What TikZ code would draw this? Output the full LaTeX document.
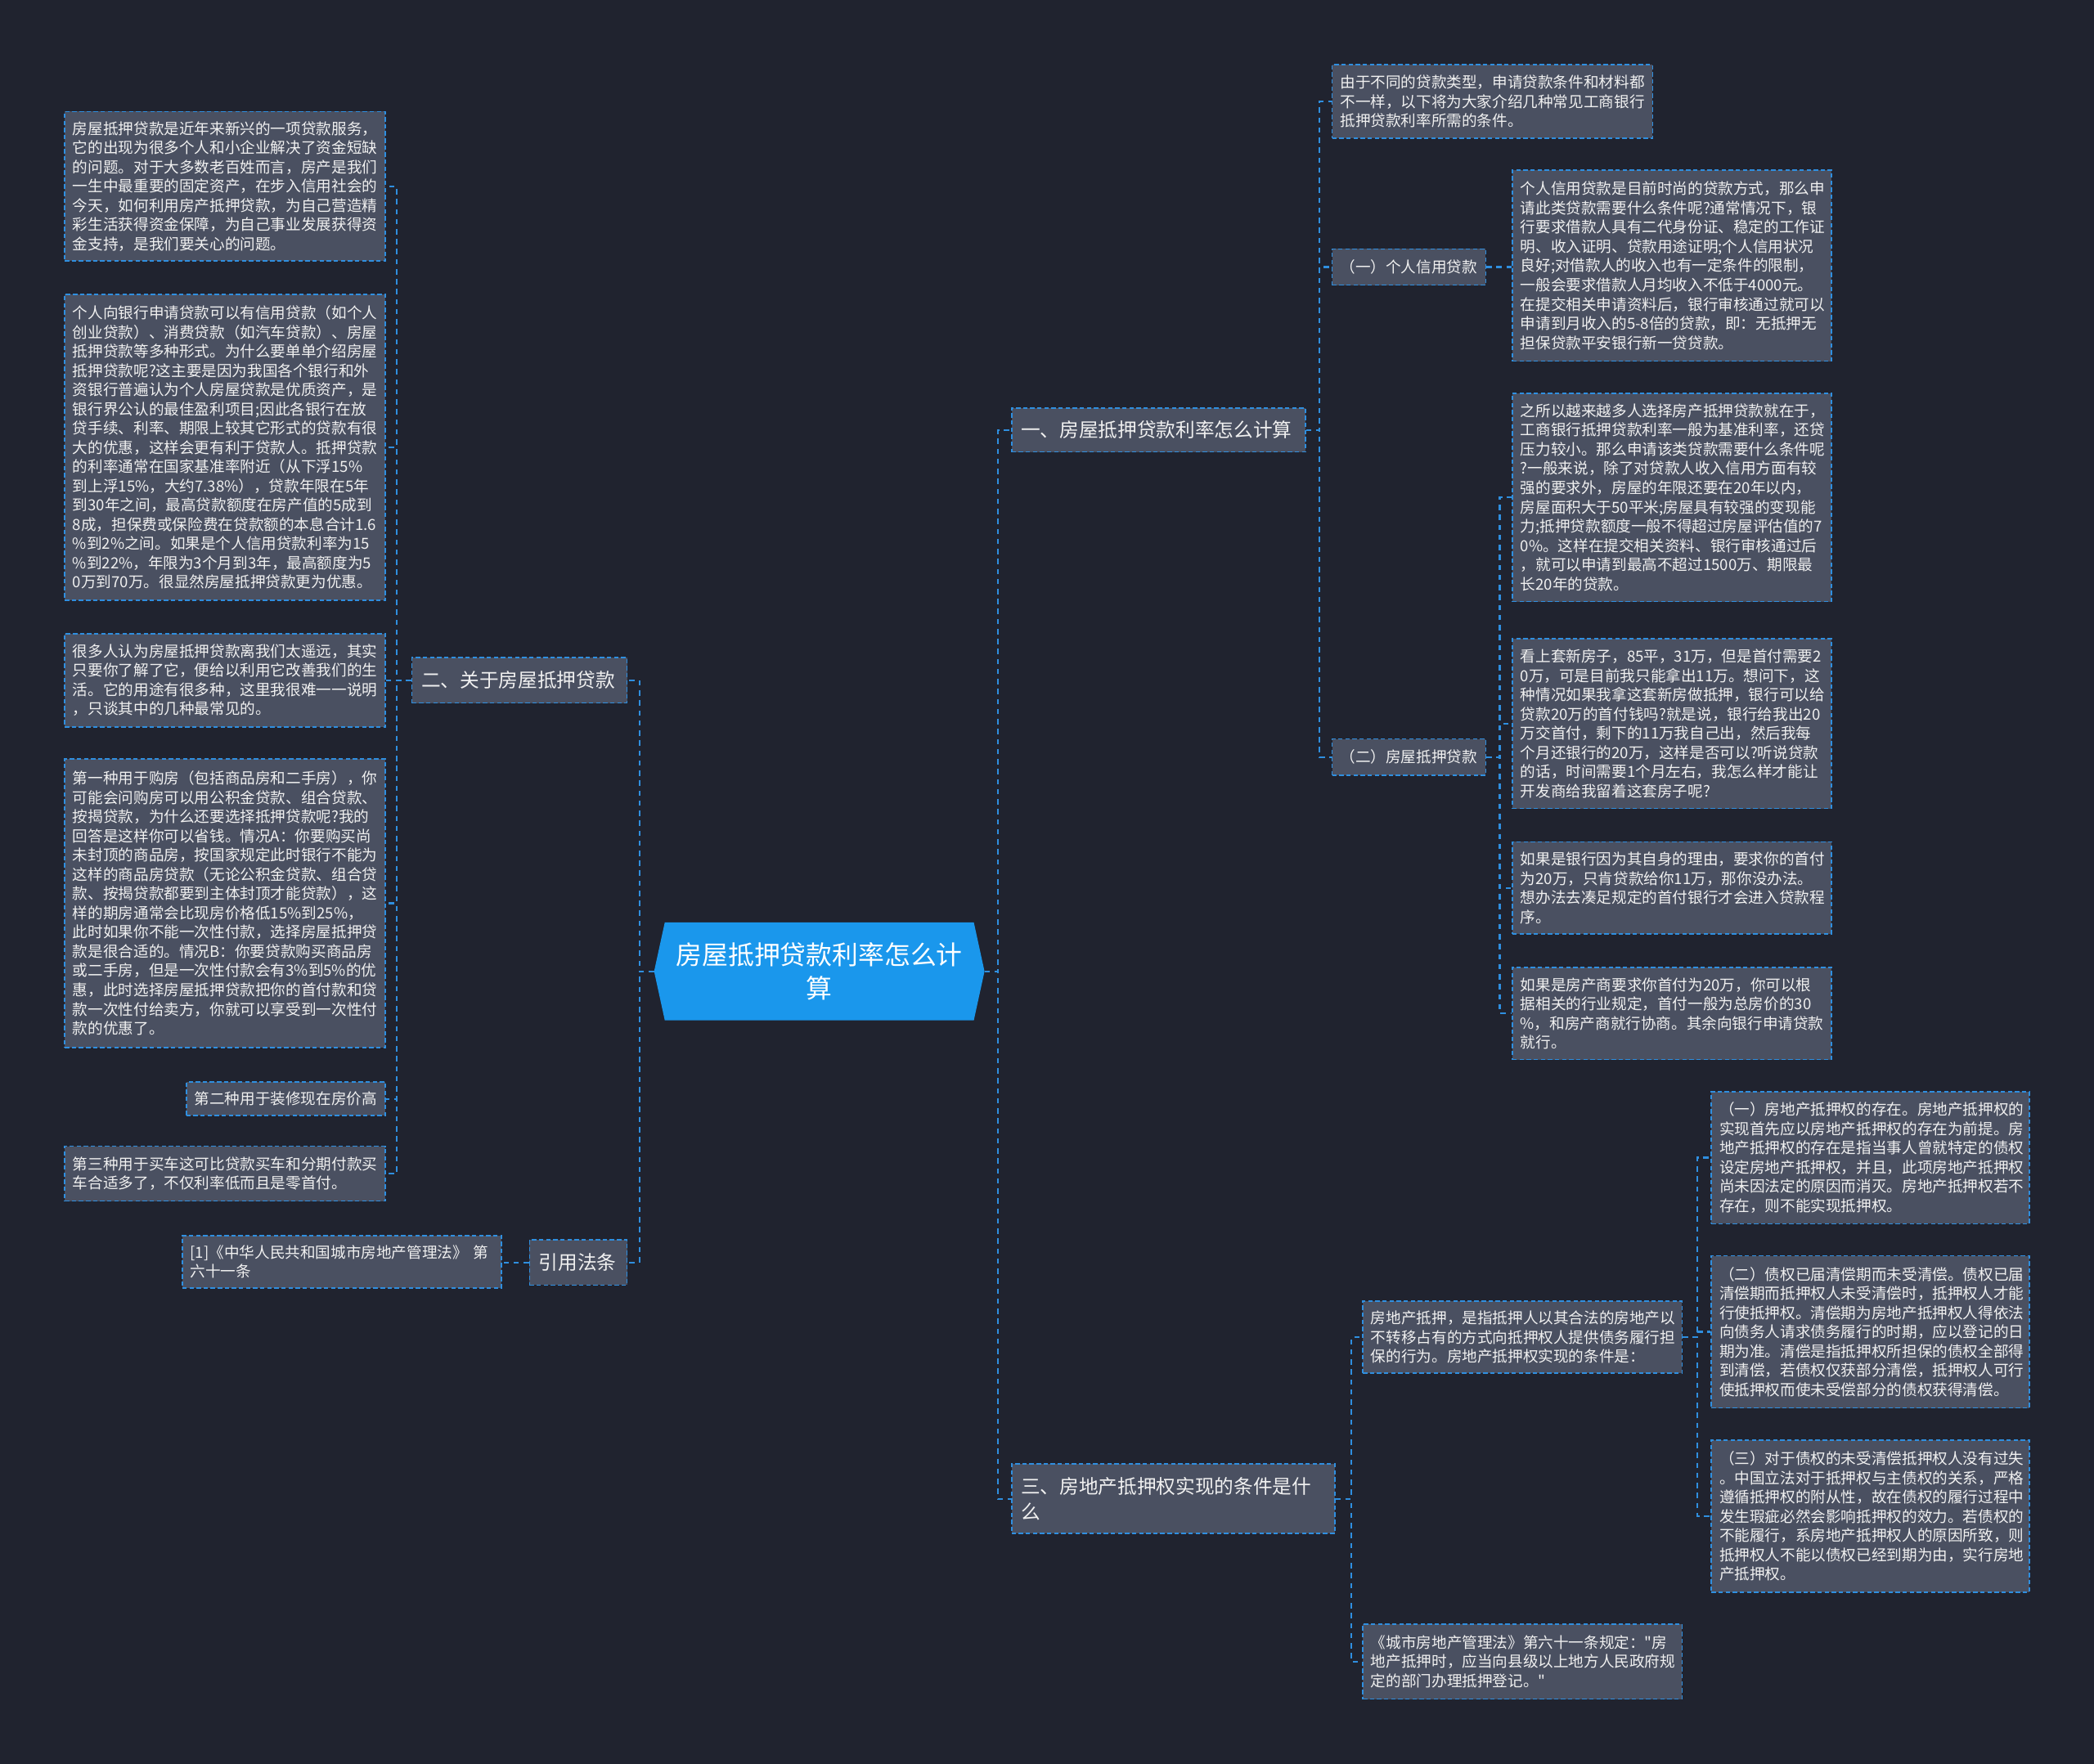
\documentclass[tikz,border=0pt]{standalone}
\usepackage{fontspec}
\setmainfont{Noto Sans CJK SC}
\newfontfamily\plainq{Noto Sans CJK SC}
\pgfdeclarelayer{bg}
\pgfsetlayers{bg,main}
\definecolor{bgc}{HTML}{20232F}
\definecolor{boxc}{HTML}{4A5061}
\definecolor{linec}{HTML}{2F8FE0}
\definecolor{cblue}{HTML}{1A97EC}
\definecolor{txtc}{HTML}{F0F0F0}
\tikzset{
  leaf/.style={draw=linec, fill=boxc, line width=1pt, dash pattern=on 3.3pt off 2pt,
    text=txtc, font=\fontsize{11.4}{14.4}\selectfont, align=left,
    inner xsep=6pt, inner ysep=0pt, anchor=north west},
  branch/.style={draw=linec, fill=boxc, line width=1pt, dash pattern=on 3.3pt off 2pt,
    text=txtc, font=\fontsize{14.5}{19}\selectfont, align=left,
    inner xsep=7pt, inner ysep=0pt, anchor=north west},
  cnode/.style={text=white, font=\fontsize{19.5}{25}\selectfont, align=center,
    minimum width=247pt, minimum height=73pt, inner sep=0pt},
  conn/.style={draw=linec, line width=1.4pt, dash pattern=on 4pt off 3.5pt}
}
\begin{document}
\begin{tikzpicture}[x=1pt,y=-1pt]
\begin{pgfonlayer}{bg}
\fill[bgc] (0,0) rectangle (1568,1321);
\end{pgfonlayer}
\useasboundingbox (0,0) rectangle (1568,1321);

% central
\node[cnode] (C) at (613.5,727.5) {房屋抵押贷款利率怎么计\\算};

% branches
\node[branch, minimum width=220pt, minimum height=33pt, text width=206pt] (B1) at (757,305) {一、房屋抵押贷款利率怎么计算};
\node[branch, minimum width=161pt, minimum height=34pt, text width=147pt] (B2) at (308,492) {二、关于房屋抵押贷款};
\node[branch, minimum width=242pt, minimum height=52pt, text width=228pt] (B3) at (757,1096) {三、房地产抵押权实现的条件是什\\么};
\node[branch, minimum width=73pt, minimum height=34pt, text width=59pt] (B4) at (396,928) {引用法条};

% left leaves
\node[leaf, minimum width=240pt, minimum height=112pt, text width=228pt] (L1) at (48,83) {房屋抵押贷款是近年来新兴的一项贷款服务，\\它的出现为很多个人和小企业解决了资金短缺\\的问题。对于大多数老百姓而言，房产是我们\\一生中最重要的固定资产，在步入信用社会的\\今天，如何利用房产抵押贷款，为自己营造精\\彩生活获得资金保障，为自己事业发展获得资\\金支持，是我们要关心的问题。};
\node[leaf, minimum width=240pt, minimum height=229pt, text width=228pt] (L2) at (48,220) {个人向银行申请贷款可以有信用贷款（如个人\\创业贷款）、消费贷款（如汽车贷款）、房屋\\抵押贷款等多种形式。为什么要单单介绍房屋\\抵押贷款呢?这主要是因为我国各个银行和外\\资银行普遍认为个人房屋贷款是优质资产，是\\银行界公认的最佳盈利项目;因此各银行在放\\贷手续、利率、期限上较其它形式的贷款有很\\大的优惠，这样会更有利于贷款人。抵押贷款\\的利率通常在国家基准率附近（从下浮15\%\\到上浮15\%，大约7.38\%），贷款年限在5年\\到30年之间，最高贷款额度在房产值的5成到\\8成，担保费或保险费在贷款额的本息合计1.6\\\%到2\%之间。如果是个人信用贷款利率为15\\\%到22\%，年限为3个月到3年，最高额度为5\\0万到70万。很显然房屋抵押贷款更为优惠。};
\node[leaf, minimum width=240pt, minimum height=70pt, text width=228pt] (L3) at (48,474) {很多人认为房屋抵押贷款离我们太遥远，其实\\只要你了解了它，便给以利用它改善我们的生\\活。它的用途有很多种，这里我很难一一说明\\，只谈其中的几种最常见的。};
\node[leaf, minimum width=240pt, minimum height=216pt, text width=228pt] (L4) at (48,568) {第一种用于购房（包括商品房和二手房），你\\可能会问购房可以用公积金贷款、组合贷款、\\按揭贷款，为什么还要选择抵押贷款呢?我的\\回答是这样你可以省钱。情况A：你要购买尚\\未封顶的商品房，按国家规定此时银行不能为\\这样的商品房贷款（无论公积金贷款、组合贷\\款、按揭贷款都要到主体封顶才能贷款），这\\样的期房通常会比现房价格低15\%到25\%，\\此时如果你不能一次性付款，选择房屋抵押贷\\款是很合适的。情况B：你要贷款购买商品房\\或二手房，但是一次性付款会有3\%到5\%的优\\惠，此时选择房屋抵押贷款把你的首付款和贷\\款一次性付给卖方，你就可以享受到一次性付\\款的优惠了。};
\node[leaf, minimum width=149pt, minimum height=25pt, text width=137pt] (L5) at (139,810) {第二种用于装修现在房价高};
\node[leaf, minimum width=240pt, minimum height=41pt, text width=228pt] (L6) at (48,858) {第三种用于买车这可比贷款买车和分期付款买\\车合适多了，不仅利率低而且是零首付。};
\node[leaf, minimum width=239pt, minimum height=39pt, text width=227pt] (Cite) at (136,925) {{[1]}《中华人民共和国城市房地产管理法》 第\\六十一条};

% right: branch one
\node[leaf, minimum width=240pt, minimum height=55pt, text width=228pt] (R1) at (997,48) {由于不同的贷款类型，申请贷款条件和材料都\\不一样，以下将为大家介绍几种常见工商银行\\抵押贷款利率所需的条件。};
\node[leaf, minimum width=115pt, minimum height=27pt, text width=103pt] (S1) at (997,186) {（一）个人信用贷款};
\node[leaf, minimum width=115pt, minimum height=27pt, text width=103pt] (S2) at (997,553) {（二）房屋抵押贷款};
\node[leaf, minimum width=239pt, minimum height=143pt, text width=227pt] (R2) at (1132,127) {个人信用贷款是目前时尚的贷款方式，那么申\\请此类贷款需要什么条件呢?通常情况下，银\\行要求借款人具有二代身份证、稳定的工作证\\明、收入证明、贷款用途证明;个人信用状况\\良好;对借款人的收入也有一定条件的限制，\\一般会要求借款人月均收入不低于4000元。\\在提交相关申请资料后，银行审核通过就可以\\申请到月收入的5-8倍的贷款，即：无抵押无\\担保贷款平安银行新一贷贷款。};
\node[leaf, minimum width=239pt, minimum height=156pt, text width=227pt] (R3) at (1132,294) {之所以越来越多人选择房产抵押贷款就在于，\\工商银行抵押贷款利率一般为基准利率，还贷\\压力较小。那么申请该类贷款需要什么条件呢\\?一般来说，除了对贷款人收入信用方面有较\\强的要求外，房屋的年限还要在20年以内，\\房屋面积大于50平米;房屋具有较强的变现能\\力;抵押贷款额度一般不得超过房屋评估值的7\\0\%。这样在提交相关资料、银行审核通过后\\，就可以申请到最高不超过1500万、期限最\\长20年的贷款。};
\node[leaf, minimum width=239pt, minimum height=127pt, text width=227pt] (R4) at (1132,478) {看上套新房子，85平，31万，但是首付需要2\\0万，可是目前我只能拿出11万。想问下，这\\种情况如果我拿这套新房做抵押，银行可以给\\贷款20万的首付钱吗?就是说，银行给我出20\\万交首付，剩下的11万我自己出，然后我每\\个月还银行的20万，这样是否可以?听说贷款\\的话，时间需要1个月左右，我怎么样才能让\\开发商给我留着这套房子呢?};
\node[leaf, minimum width=239pt, minimum height=69pt, text width=227pt] (R5) at (1132,630) {如果是银行因为其自身的理由，要求你的首付\\为20万，只肯贷款给你11万，那你没办法。\\想办法去凑足规定的首付银行才会进入贷款程\\序。};
\node[leaf, minimum width=239pt, minimum height=69pt, text width=227pt] (R6) at (1132,724) {如果是房产商要求你首付为20万，你可以根\\据相关的行业规定，首付一般为总房价的30\\\%，和房产商就行协商。其余向银行申请贷款\\就行。};

% right: branch three
\node[leaf, minimum width=239pt, minimum height=54pt, text width=227pt] (M1) at (1020,974) {房地产抵押，是指抵押人以其合法的房地产以\\不转移占有的方式向抵押权人提供债务履行担\\保的行为。房地产抵押权实现的条件是：};
\node[leaf, minimum width=239pt, minimum height=56pt, text width=227pt] (M2) at (1020,1216) {《城市房地产管理法》第六十一条规定：{\plainq "}房\\地产抵押时，应当向县级以上地方人民政府规\\定的部门办理抵押登记。{\plainq "}};
\node[leaf, minimum width=238pt, minimum height=99pt, text width=226pt] (N1) at (1281,817) {（一）房地产抵押权的存在。房地产抵押权的\\实现首先应以房地产抵押权的存在为前提。房\\地产抵押权的存在是指当事人曾就特定的债权\\设定房地产抵押权，并且，此项房地产抵押权\\尚未因法定的原因而消灭。房地产抵押权若不\\存在，则不能实现抵押权。};
\node[leaf, minimum width=238pt, minimum height=114pt, text width=226pt] (N2) at (1281,940) {（二）债权已届清偿期而未受清偿。债权已届\\清偿期而抵押权人未受清偿时，抵押权人才能\\行使抵押权。清偿期为房地产抵押权人得依法\\向债务人请求债务履行的时期，应以登记的日\\期为准。清偿是指抵押权所担保的债权全部得\\到清偿，若债权仅获部分清偿，抵押权人可行\\使抵押权而使未受偿部分的债权获得清偿。};
\node[leaf, minimum width=238pt, minimum height=114pt, text width=226pt] (N3) at (1281,1078) {（三）对于债权的未受清偿抵押权人没有过失\\。中国立法对于抵押权与主债权的关系，严格\\遵循抵押权的附从性，故在债权的履行过程中\\发生瑕疵必然会影响抵押权的效力。若债权的\\不能履行，系房地产抵押权人的原因所致，则\\抵押权人不能以债权已经到期为由，实行房地\\产抵押权。};

\begin{pgfonlayer}{bg}
% central hexagon
\fill[cblue] (C.west) -- ([xshift=8pt]C.north west) -- ([xshift=-8pt]C.north east)
  -- (C.east) -- ([xshift=-8pt]C.south east) -- ([xshift=8pt]C.south west) -- cycle;
% connectors
\draw[conn] (C.west) -- ++(-11,0) |- (B2.east);
\draw[conn] (C.west) -- ++(-11,0) |- (B4.east);
\draw[conn] (C.east) -- ++(10,0) |- (B1.west);
\draw[conn] (C.east) -- ++(10,0) |- (B3.west);
\foreach \n in {L1,L2,L3,L4,L5,L6}
  \draw[conn] (B2.west) -- ++(-11,0) |- (\n.east);
\draw[conn] (B4.west) -- (Cite.east |- B4.west);
\foreach \n in {R1,S1,S2}
  \draw[conn] (B1.east) -- ++(10,0) |- (\n.west);
\draw[conn] (S1.east) -- (R2.west |- S1.east);
\foreach \n in {R3,R4,R5,R6}
  \draw[conn] (S2.east) -- ++(10,0) |- (\n.west);
\foreach \n in {M1,M2}
  \draw[conn] (B3.east) -- ++(12,0) |- (\n.west);
\foreach \n in {N1,N2,N3}
  \draw[conn] (M1.east) -- ++(11,0) |- (\n.west);
\end{pgfonlayer}
\end{tikzpicture}
\end{document}
